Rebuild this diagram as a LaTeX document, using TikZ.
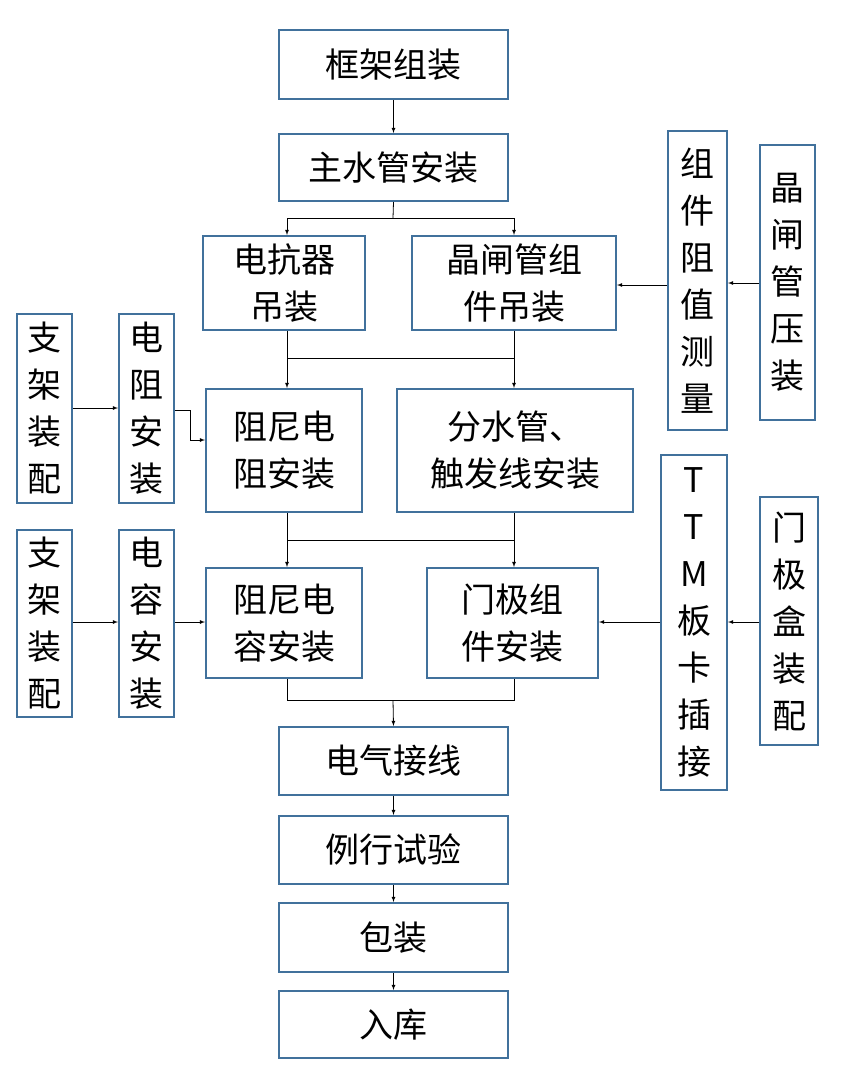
\documentclass[tikz,border=0pt]{standalone}
\usepackage{fontspec}
\setmainfont{Noto Sans CJK SC}
\begin{document}
\begin{tikzpicture}[x=1pt,y=-1pt,
  bx/.style={draw=boxc,line width=2pt,fill=white,align=center,font=\fontsize{34}{47}\selectfont,inner sep=0pt},
  ar/.style={-latex,line width=0.8pt},
  ln/.style={line width=0.8pt}]
\definecolor{boxc}{HTML}{41719C}
\useasboundingbox (0,0) rectangle (864,1076);
\newcommand{\bxat}[5]{\node[bx,minimum width=#3-#1,minimum height=#4-#2] (#5) at ({(#1+#3)/2},{(#2+#4)/2})}
\bxat{279}{30}{508}{99}{a} {框架组装};
\bxat{279}{134}{508}{201}{b} {主水管安装};
\bxat{203}{236}{365}{330}{c} {电抗器\\吊装};
\bxat{412}{236}{616}{330}{d} {晶闸管组\\件吊装};
\bxat{668}{131}{727}{430}{e} {组\\件\\阻\\值\\测\\量};
\bxat{760}{145}{815}{420}{f} {晶\\闸\\管\\压\\装};
\bxat{17}{314}{72}{503}{g} {支\\架\\装\\配};
\bxat{119}{314}{174}{503}{h} {电\\阻\\安\\装};
\bxat{206}{389}{362}{512}{i} {阻尼电\\阻安装};
\bxat{397}{389}{633}{512}{j} {分水管、\\触发线安装};
\bxat{661}{455}{727}{790}{k} {T\\T\\M\\板\\卡\\插\\接};
\bxat{760}{497}{818}{745}{l} {门\\极\\盒\\装\\配};
\bxat{17}{530}{72}{717}{m} {支\\架\\装\\配};
\bxat{119}{530}{174}{717}{n} {电\\容\\安\\装};
\bxat{206}{568}{362}{678}{o} {阻尼电\\容安装};
\bxat{427}{568}{598}{678}{p} {门极组\\件安装};
\bxat{279}{727}{508}{795}{q} {电气接线};
\bxat{279}{816}{508}{884}{r} {例行试验};
\bxat{279}{903}{508}{972}{s} {包装};
\bxat{279}{991}{508}{1058}{t} {入库};
\draw[ar] (a) -- (b);
\draw[ln] (b.south) -- (393,218) coordinate (s1);
\draw[ln] (287,218) -- (514,218);
\draw[ar] (287,218) -- (c.north -| 287,0);
\draw[ar] (514,218) -- (d.north -| 514,0);
\draw[ln] (c.south -| 287,0) -- (287,358) -- (514,358) -- (d.south -| 514,0);
\draw[ar] (287,358) -- (i.north -| 287,0);
\draw[ar] (514,358) -- (j.north -| 514,0);
\draw[ln] (i.south -| 287,0) -- (287,540) -- (514,540) -- (j.south -| 514,0);
\draw[ar] (287,540) -- (o.north -| 287,0);
\draw[ar] (514,540) -- (p.north -| 514,0);
\draw[ln] (o.south -| 287,0) -- (287,700) -- (514,700) -- (p.south -| 514,0);
\draw[ar] (393,700) -- (q.north);
\draw[ar] (q) -- (r);
\draw[ar] (r) -- (s);
\draw[ar] (s) -- (t);
\draw[ar] (e.west |- 0,285) -- (d.east |- 0,285);
\draw[ar] (f.west |- 0,283) -- (e.east |- 0,283);
\draw[ar] (g.east |- 0,408) -- (h.west |- 0,408);
\draw[ar] (h.east |- 0,410) -- (190,410) -- (190,440) -- (i.west |- 0,440);
\draw[ar] (m.east |- 0,622) -- (n.west |- 0,622);
\draw[ar] (n.east |- 0,622) -- (o.west |- 0,622);
\draw[ar] (k.west |- 0,622) -- (p.east |- 0,622);
\draw[ar] (l.west |- 0,622) -- (k.east |- 0,622);
\end{tikzpicture}
\end{document}
